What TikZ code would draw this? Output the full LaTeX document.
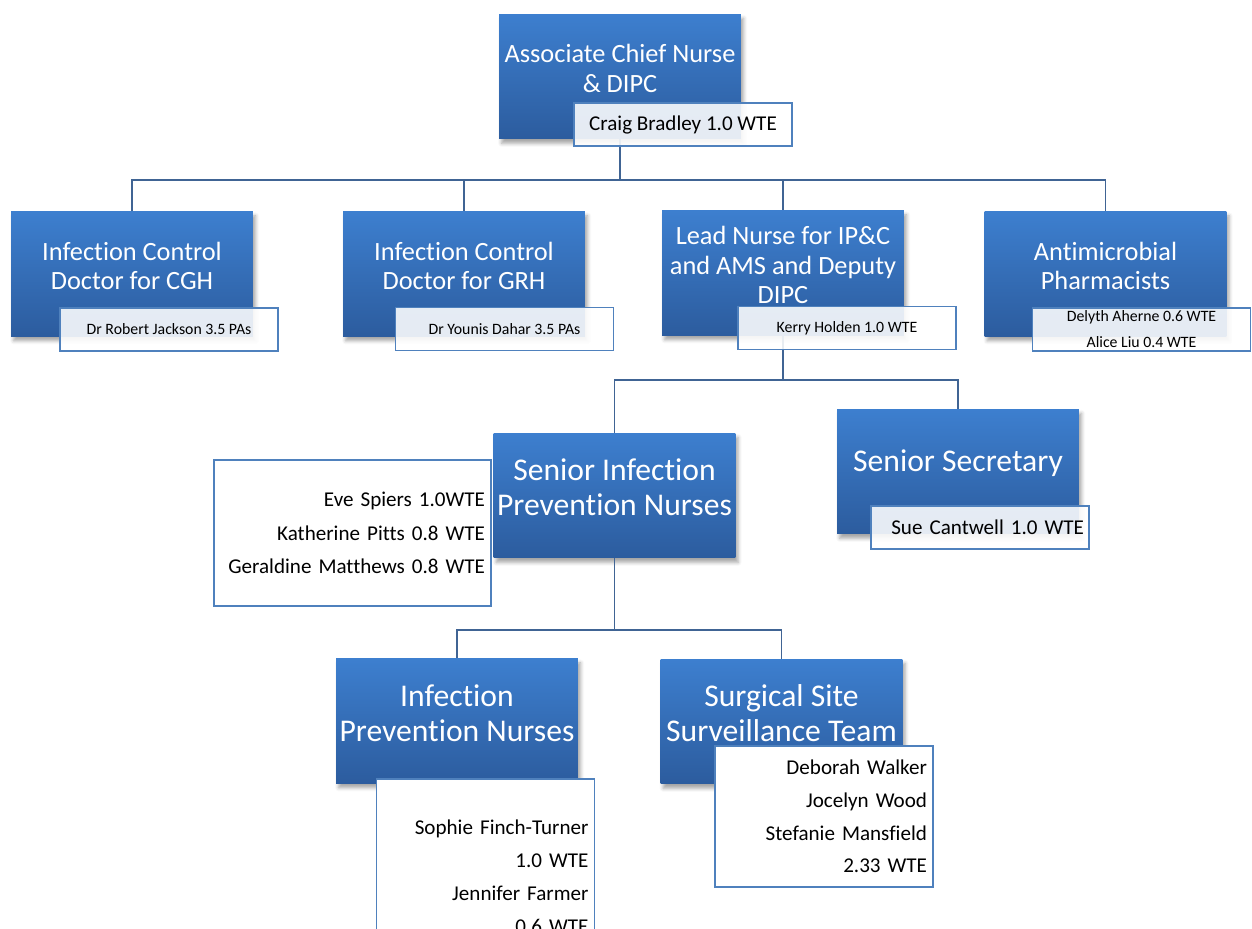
\documentclass[tikz,border=0pt]{standalone}
\usepackage{fontspec}
\setmainfont{Carlito}[Ligatures=NoCommon]
\usetikzlibrary{shadows.blur}
\definecolor{boxtop}{RGB}{61,127,207}
\definecolor{boxbot}{RGB}{44,92,158}
\definecolor{nameline}{RGB}{79,129,189}
\definecolor{linkcol}{RGB}{64,100,148}
\begin{document}
\begin{tikzpicture}[x=0.02cm,y=-0.02cm,
	role/.style={rectangle,minimum width=4.84cm,minimum height=2.5cm,inner sep=0pt,top color=boxtop,bottom color=boxbot,
		blur shadow={shadow xshift=1.5pt,shadow yshift=-2.5pt,shadow blur radius=2pt,shadow opacity=35}},
	head/.style={text=white,align=center,yshift=4.5pt,font=\fontsize{15}{16.8}\selectfont},
	bighead/.style={head,font=\fontsize{18}{19.9}\selectfont},
	namebox/.style={rectangle,draw=nameline,line width=0.9pt,fill=white,fill opacity=0.88,text opacity=1,
		minimum width=4.36cm,minimum height=0.86cm,inner sep=0pt,font=\fontsize{12}{14}\selectfont},
	smallname/.style={namebox,align=center,font=\fontsize{9}{14.8}\selectfont},
	listbox/.style={rectangle,draw=nameline,line width=0.9pt,fill=white,align=right,inner xsep=0.12cm,inner ysep=0pt,
		font=\fontsize{12}{19}\selectfont},
	link/.style={draw=linkcol,line width=1.1pt}]
	\useasboundingbox (0,0) rectangle (1252,929);
	\clip (0,0) rectangle (1252,929);
	% bus points
	\coordinate (bus1) at (620,180);
	\coordinate (bus2) at (783,380);
	\coordinate (bus3) at (614.5,630);
	% roles
	\node[role,label={[head]center:{Associate Chief Nurse\\ \& DIPC}}] (acn) at (620,76.5) {};
	\node[role,label={[head]center:{Infection Control\\ Doctor for CGH}}] (cgh) at (132,274) {};
	\node[role,label={[head]center:{Infection Control\\ Doctor for GRH}}] (grh) at (464,274) {};
	\node[role,label={[head]center:{Lead Nurse for IP\&C\\ and AMS and Deputy\\ DIPC}}] (lead) at (783,273) {};
	\node[role,label={[head]center:{Antimicrobial\\ Pharmacists}}] (anti) at (1105.5,274) {};
	\node[role,label={[bighead]center:{Senior Infection\\ Prevention Nurses}}] (sipn) at (614.5,495.5) {};
	\node[role,label={[bighead]center:{Senior Secretary}}] (sec) at (958,471.5) {};
	\node[role,label={[bighead]center:{Infection\\ Prevention Nurses}}] (ipn) at (457,721) {};
	\node[role,label={[bighead]center:{Surgical Site\\ Surveillance Team}}] (ssst) at (781.5,721.5) {};
	% links
	\draw[link] (acn.south) -- (bus1);
	\foreach \n in {cgh,grh,lead,anti}{
		\draw[link] (bus1) -| (\n.north);
	};
	\draw[link] (lead.south) -- (bus2) -| (sipn.north);
	\draw[link] (bus2) -| (sec.north);
	\draw[link] (sipn.south) -- (bus3) -| (ipn.north);
	\draw[link] (bus3) -| (ssst.north);
	% names
	\node[namebox] (craig) at (683,124.5) {Craig Bradley 1.0 WTE};
	\node[smallname] (rj) at (169,329.5) {Dr Robert Jackson 3.5 PAs};
	\node[smallname] (yd) at (504.5,329) {Dr Younis Dahar 3.5 PAs};
	\node[smallname] (kh) at (847,328) {Kerry Holden 1.0 WTE};
	\node[smallname] (pharm) at (1141.5,329.5) {Delyth Aherne 0.6 WTE\\ Alice Liu 0.4 WTE};
	\node[namebox,align=right,text width=4.16cm] (sue) at (980,527.5) {Sue Cantwell 1.0 WTE};
	% staff lists
	\node[listbox,text width=5.3cm,minimum height=2.92cm] (sipnlist) at (352.5,533) {Eve Spiers 1.0WTE\\ Katherine Pitts 0.8 WTE\\ Geraldine Matthews 0.8 WTE};
	\node[listbox,text width=4.12cm,minimum height=3.92cm,font=\fontsize{12}{18.8}\selectfont] (ipnlist) at (485.5,877) {Sophie Finch-Turner\\ 1.0 WTE\\ Jennifer Farmer\\ 0.6 WTE};
	\node[listbox,text width=4.12cm,minimum height=2.82cm,font=\fontsize{12}{18.6}\selectfont] (sslist) at (824,816.5) {Deborah Walker\\ Jocelyn Wood\\ Stefanie Mansfield\\ 2.33 WTE};
\end{tikzpicture}
\end{document}
